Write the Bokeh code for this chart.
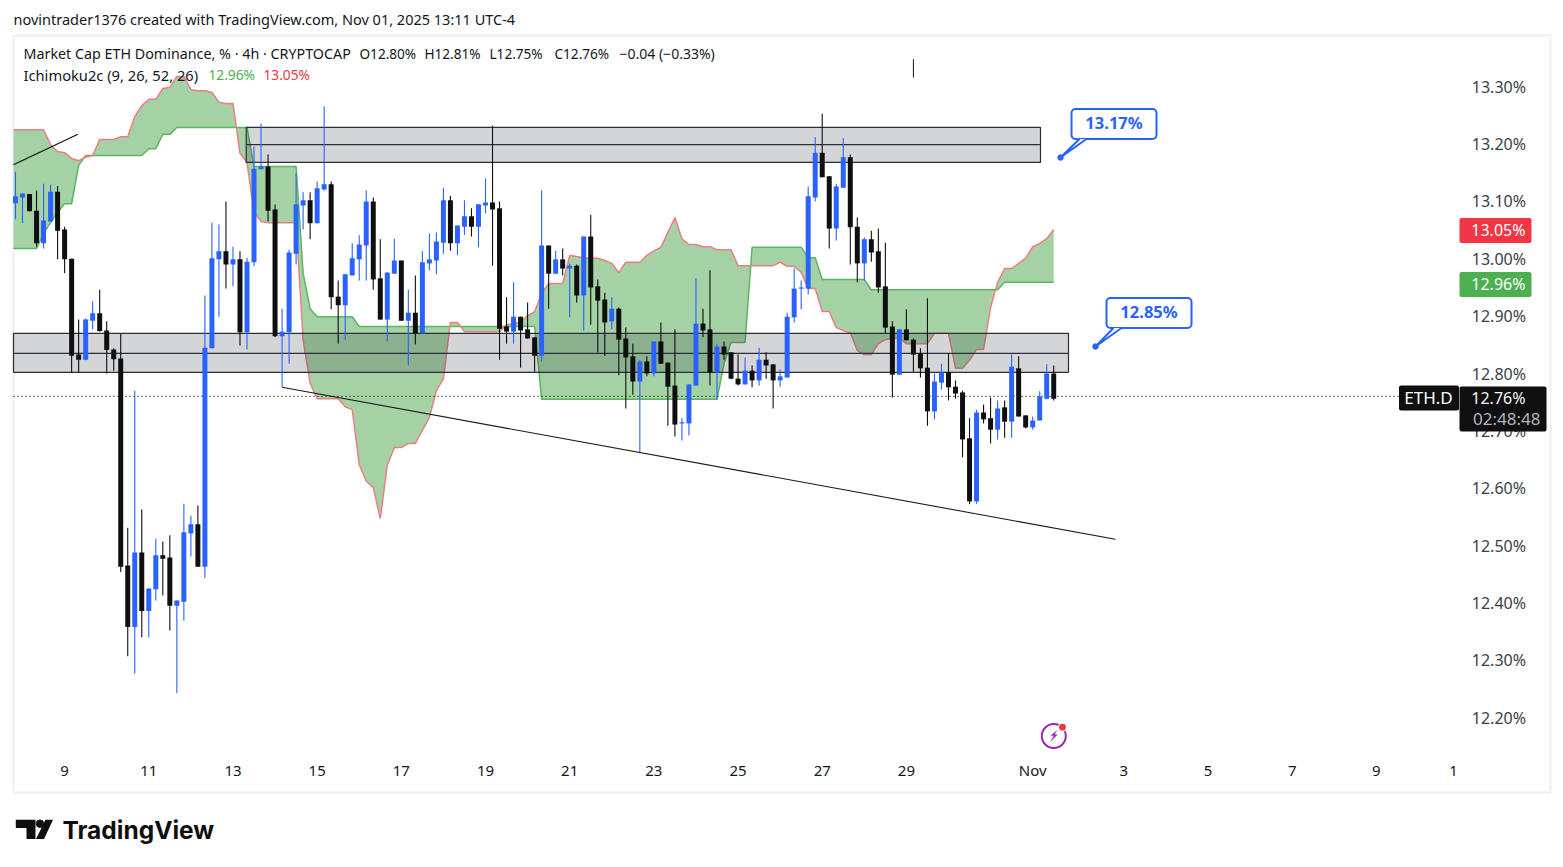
from bokeh.plotting import figure
from bokeh.models import Label, FixedTicker, PrintfTickFormatter
from bokeh.embed import file_html
from bokeh.resources import INLINE

# ---- data ----
opens = [13.097,13.107,13.113,13.084,13.027,13.065,13.117,13.051,13.000,12.833,12.824,12.892,12.905,12.875,12.842,12.826,
12.465,12.358,12.488,12.386,12.424,12.483,12.479,12.395,12.402,12.521,12.537,12.463,12.844,12.999,13.013,12.990,
12.999,12.872,12.994,13.156,13.161,13.086,12.865,12.872,13.009,13.093,13.102,13.062,13.121,13.130,12.934,12.919,
12.971,12.999,13.023,13.100,12.966,12.894,12.974,12.997,12.892,12.906,12.870,12.992,12.997,13.028,13.102,13.027,
13.056,13.074,13.056,13.093,13.098,13.088,12.882,12.873,12.899,12.877,12.863,12.831,13.023,12.974,12.999,12.983,
12.988,12.936,13.039,12.952,12.929,12.891,12.913,12.861,12.830,12.786,12.821,12.800,12.856,12.819,12.779,12.713,
12.713,12.779,12.887,12.877,12.802,12.847,12.837,12.791,12.781,12.805,12.788,12.824,12.816,12.788,12.793,12.898,
12.948,12.948,13.107,13.185,13.144,13.053,13.124,13.177,13.056,12.992,13.034,13.013,12.952,12.882,12.798,12.877,
12.859,12.835,12.810,12.734,12.784,12.802,12.777,12.767,12.687,12.577,12.732,12.722,12.702,12.741,12.716,12.809,
12.727,12.706,12.718,12.756,12.800]
highs = [13.152,13.114,13.113,13.119,13.131,13.129,13.127,13.056,13.000,12.894,12.896,12.926,12.946,12.891,12.844,12.869,
12.531,12.770,12.563,12.425,12.512,12.507,12.518,12.404,12.573,12.552,12.570,12.936,13.063,13.060,13.100,13.021,
13.013,13.002,13.196,13.236,13.182,13.095,12.913,13.016,13.149,13.116,13.116,13.135,13.266,13.135,12.962,12.973,
13.027,13.041,13.119,13.107,13.034,12.976,13.035,12.997,12.946,12.971,13.013,13.044,13.046,13.124,13.110,13.058,
13.102,13.088,13.095,13.140,13.232,13.100,12.933,12.959,12.899,12.924,12.863,13.119,13.023,13.014,13.018,12.992,
12.990,13.039,13.077,12.964,12.941,12.933,12.915,12.880,12.852,12.823,12.830,12.856,12.889,12.819,12.877,12.722,
12.781,12.966,12.913,12.980,12.852,12.856,12.837,12.833,12.828,12.814,12.845,12.837,12.816,12.807,12.906,12.983,
12.962,13.126,13.212,13.253,13.144,13.131,13.210,13.182,13.072,13.037,13.049,13.053,13.028,12.891,12.877,12.912,
12.861,12.844,12.931,12.800,12.817,12.835,12.788,12.770,12.722,12.737,12.746,12.758,12.753,12.753,12.833,12.830,
12.727,12.725,12.769,12.816,12.814]
lows = [13.069,13.062,13.083,13.021,13.018,13.065,12.999,12.975,12.802,12.802,12.823,12.877,12.873,12.800,12.805,12.454,
12.307,12.277,12.340,12.340,12.404,12.413,12.352,12.243,12.369,12.481,12.463,12.443,12.844,12.899,12.948,12.952,
12.849,12.842,12.987,13.156,13.065,12.863,12.776,12.817,12.990,13.051,13.034,13.062,13.119,12.912,12.852,12.859,
12.971,12.962,12.962,12.946,12.894,12.856,12.974,12.892,12.814,12.851,12.870,12.980,12.973,13.009,13.014,13.006,
13.042,13.039,13.020,13.079,12.988,12.824,12.852,12.852,12.810,12.861,12.803,12.821,12.913,12.974,12.971,12.898,
12.924,12.875,12.885,12.837,12.831,12.877,12.797,12.739,12.763,12.662,12.795,12.795,12.817,12.709,12.690,12.683,
12.692,12.779,12.863,12.779,12.755,12.824,12.790,12.779,12.781,12.776,12.779,12.791,12.739,12.777,12.793,12.889,
12.912,12.938,13.100,13.142,13.018,13.032,13.124,12.990,12.959,12.962,12.995,12.941,12.870,12.758,12.798,12.858,
12.803,12.793,12.709,12.720,12.772,12.753,12.756,12.654,12.572,12.573,12.713,12.678,12.685,12.688,12.688,12.725,
12.704,12.702,12.718,12.755,12.753]
closes = [13.109,13.114,13.083,13.027,13.067,13.117,13.049,12.999,12.831,12.824,12.894,12.905,12.874,12.841,12.825,12.463,
12.358,12.488,12.386,12.425,12.483,12.477,12.395,12.404,12.523,12.537,12.463,12.845,13.001,13.013,12.990,12.999,
12.872,12.995,13.157,13.161,13.084,12.865,12.873,13.011,13.095,13.102,13.062,13.123,13.130,12.933,12.919,12.973,
13.001,13.025,13.100,12.964,12.894,12.976,12.997,12.892,12.906,12.870,12.994,12.999,13.030,13.102,13.027,13.058,
13.074,13.056,13.095,13.098,13.086,12.878,12.873,12.899,12.875,12.861,12.831,13.023,12.974,12.999,12.983,12.988,
12.936,13.039,12.950,12.927,12.889,12.913,12.859,12.828,12.786,12.821,12.800,12.856,12.817,12.777,12.711,12.715,
12.781,12.887,12.875,12.802,12.847,12.833,12.791,12.781,12.805,12.788,12.824,12.814,12.788,12.795,12.899,12.948,
12.950,13.109,13.185,13.142,13.053,13.126,13.177,13.055,12.992,13.034,13.011,12.950,12.880,12.798,12.877,12.858,
12.833,12.809,12.734,12.786,12.802,12.776,12.765,12.685,12.577,12.732,12.720,12.702,12.739,12.716,12.812,12.725,
12.706,12.718,12.760,12.800,12.756]

span_a = [13.018,13.018,13.018,13.018,13.018,13.044,13.063,13.081,13.096,13.096,13.163,13.180,13.180,13.180,13.180,13.180,13.180,
13.180,13.180,13.180,13.192,13.192,13.217,13.217,13.229,13.229,13.229,13.229,13.229,13.229,13.229,13.229,13.229,13.229,13.229,
13.161,13.161,13.161,13.161,13.161,13.161,13.161,12.975,12.913,12.899,12.899,12.899,12.899,12.899,12.899,
12.882,12.882,12.882,12.882,12.882,12.882,12.882,12.882,12.882,12.882,12.882,12.882,12.882,12.882,12.882,12.882,12.882,12.882,12.882,12.882,12.882,12.882,12.882,12.882,12.882,12.882,
12.755,12.755,12.755,12.755,12.755,12.755,12.755,12.755,12.755,12.755,12.755,12.755,12.755,12.755,12.755,12.755,12.755,12.755,12.755,12.755,12.755,12.755,12.755,12.755,12.755,12.755,
12.817,12.854,12.854,12.854,13.020,13.020,13.020,13.020,13.020,13.020,13.020,13.020,13.002,13.002,
12.964,12.964,12.964,12.964,12.964,12.964,12.964,
12.946,12.946,12.946,12.946,12.946,12.946,12.946,12.946,12.946,12.946,12.946,12.946,12.946,12.946,12.946,12.946,12.946,12.946,12.946,
12.959,12.959,12.959,12.959,12.959,12.959,12.959,12.959]
span_b = [13.225,13.225,13.225,13.225,13.225,13.225,13.199,13.187,13.185,13.175,13.171,13.177,13.180,13.208,13.208,13.208,
13.213,13.213,13.248,13.267,13.278,13.278,13.297,13.299,13.318,13.318,13.295,13.293,13.293,13.290,13.273,13.271,13.271,
13.184,13.168,13.081,13.065,13.063,13.063,13.063,13.063,13.063,12.858,12.783,12.756,12.756,12.756,12.756,12.742,12.737,
12.641,12.612,12.601,12.547,12.640,12.671,12.671,12.678,12.678,12.701,12.723,12.770,12.791,12.889,12.889,
12.873,12.873,12.873,12.873,12.873,12.873,12.885,12.887,12.889,12.901,12.908,12.939,12.957,12.957,12.957,
13.006,13.004,13.002,13.001,13.001,12.997,12.992,12.976,12.994,12.994,12.994,13.006,13.014,13.020,13.046,13.072,13.035,13.025,13.025,13.021,13.021,
13.016,13.016,13.016,12.988,12.988,12.988,12.988,12.988,12.988,12.994,12.987,12.987,12.976,12.948,12.948,12.908,12.908,
12.880,12.875,12.871,12.840,12.833,12.833,12.852,12.859,12.861,12.861,12.852,12.852,12.852,12.852,12.870,12.870,12.870,
12.809,12.809,12.823,12.842,12.842,12.915,12.959,12.983,12.983,12.992,13.001,13.021,13.027,13.035,13.051]

zone_upper = [13.229, 13.199, 13.168]
zone_lower = [12.870, 12.835, 12.802]
trend_a_bars = [-0.3, 8.9]
trend_a_vals = [13.164, 13.217]
trend_b_bars = [38.0, 156.8]
trend_b_vals = [12.776, 12.511]
stray_bar = [128.0]
stray_top = [13.348]
stray_bot = [13.316]
last_price = 12.76

y_ticks = [12.2,12.3,12.4,12.5,12.6,12.7,12.8,12.9,13.0,13.1,13.2,13.3]
x_tick_bars = [7,19,31,43,55,67,79,91,103,115,127,145,158,170,182,194,205]
x_tick_labels = ["9","11","13","15","17","19","21","23","25","27","29","Nov","3","5","7","9","1"]

# ---- pixel helpers for decoration placement (page pixels) ----
def X(px): return (px-15)/7.015
def Y(py): return 12.8+(373-py)*0.0017437

BLUE="#2962ff"; BLACK="#0f0f0f"; GREEN="#4caf50"; RED="#f23645"; INK="#131722"
FONT="Noto Sans"

p = figure(width=1555, height=848, output_backend="svg", toolbar_location=None,
           x_range=(X(0),X(1555)), y_range=(Y(848),Y(0)),
           min_border_left=0, min_border_right=0, min_border_top=0, min_border_bottom=0,
           background_fill_color="white", border_fill_color="white", outline_line_color=None)
p.grid.visible=False
xa=p.xaxis[0]; ya=p.yaxis[0]
xa.fixed_location=Y(759); ya.fixed_location=X(1525.5)
xa.ticker=FixedTicker(ticks=x_tick_bars)
xa.major_label_overrides={b:t for b,t in zip(x_tick_bars,x_tick_labels)}
ya.ticker=FixedTicker(ticks=y_ticks)
ya.formatter=PrintfTickFormatter(format="%.2f%%")
for a in (xa,ya):
    a.axis_line_color=None; a.major_tick_line_color=None; a.minor_tick_line_color=None
    a.major_tick_out=0; a.major_tick_in=0; a.minor_tick_out=0
    a.major_label_standoff=0; a.major_label_text_font=FONT
    a.major_label_text_color=INK
xa.major_label_text_font_size="15px"
ya.major_label_text_font_size="16px"
ya.major_label_text_color="#3a3e4a"

# outer box
p.quad(left=[X(13)],right=[X(1550)],top=[Y(35)],bottom=[Y(792)],fill_color=None,line_color="#eef0f5",line_width=2)

bars=list(range(len(opens)))
cloud_bars=list(range(-1,len(opens)))

# cloud
p.varea([X(13)]+cloud_bars[1:],[span_a[0]]+span_a[1:],[span_b[0]]+span_b[1:],fill_color="#a5d2a5",fill_alpha=1)
p.line([X(13)]+cloud_bars[1:],[span_a[0]]+span_a[1:],line_color="#5cb560",line_width=1.5)
p.line([X(13)]+cloud_bars[1:],[span_b[0]]+span_b[1:],line_color="#ea8085",line_width=1.5)

# zones
zl=[X(245.7),X(13)]; zr=[X(1040),X(1068)]
p.quad(left=zl,right=zr,top=[zone_upper[0],zone_lower[0]],bottom=[zone_upper[2],zone_lower[2]],
       fill_color="#2a2e39",fill_alpha=0.2,line_color="#2a2e39",line_width=1.2)
p.segment(x0=zl,x1=zr,y0=[zone_upper[1],zone_lower[1]],y1=[zone_upper[1],zone_lower[1]],line_color="#2a2e39",line_width=1.2)

# price line
p.line([X(13),X(1398)],[last_price,last_price],line_color=BLACK,line_dash=[1,3],line_width=1.2)

# candles
colors=[BLUE if c>=o else BLACK for o,c in zip(opens,closes)]
p.segment(x0=bars,x1=bars,y0=lows,y1=highs,line_color=colors,line_width=1.1)
p.vbar(x=bars,width=0.71,top=[max(o,c) for o,c in zip(opens,closes)],bottom=[min(o,c) for o,c in zip(opens,closes)],
       fill_color=colors,line_color=None)

# trend lines
p.line(trend_a_bars,trend_a_vals,line_color=BLACK,line_width=1.1)
p.line(trend_b_bars,trend_b_vals,line_color="#1a1a1a",line_width=1.1)
p.segment(x0=stray_bar,x1=stray_bar,y0=stray_bot,y1=stray_top,line_color=BLACK,line_width=1)

def T(px,py,text,size="14px",color=INK,style="normal",align="left",font=FONT):
    p.add_layout(Label(x=X(px),y=Y(py-1),text=text,text_font=font,text_font_size=size,text_color=color,
                       text_font_style=style,text_align=align,text_baseline="middle",level="overlay"))

# callouts
for (l,r,t,b,t1,t2,dx,dy,txt) in ((1071,1156,108.5,138.5,1079,1086,1060,157,"13.17%"),
                                  (1106,1191,297.5,327.5,1113,1121,1095,346,"12.85%")):
    p.quad(left=[X(l)],right=[X(r)],top=[Y(t)],bottom=[Y(b)],fill_color="white",line_color=BLUE,line_width=2,border_radius=4)
    p.patch([X(t1),X(t2),X(dx)],[Y(b),Y(b),Y(dy)],fill_color="white",line_color=None)
    p.line([X(t1),X(dx),X(t2)],[Y(b),Y(dy),Y(b)],line_color=BLUE,line_width=2)
    p.scatter([X(dx)],[Y(dy)],size=5.5,color=BLUE)
    T((l+r)/2,(t+b)/2-0.5,txt,"16.5px",BLUE,"bold","center")

# price tags
tags=[(1459,1531,217.5,242.5,RED),(1459,1531,271.5,296.5,GREEN),(1398.5,1458.5,385,410,BLACK),(1459,1546,386,431,BLACK)]
p.quad(left=[X(t[0]) for t in tags],right=[X(t[1]) for t in tags],top=[Y(t[2]) for t in tags],bottom=[Y(t[3]) for t in tags],
       fill_color=[t[4] for t in tags],line_color=None,border_radius=2,level="overlay")
T(1525,230,"13.05%","16px","white","normal","right")
T(1525,284.5,"12.96%","16px","white","normal","right")
T(1428,398,"ETH.D","17px","white","normal","center")
T(1525,398.5,"12.76%","16px","#f5f5f5","normal","right")
T(1540,419,"02:48:48","17px","#b2b5be","normal","right")

# header + legend
T(13,19.5,"novintrader1376 created with TradingView.com, Nov 01, 2025 13:11 UTC-4","14.5px")
T(23,54,"Market Cap ETH Dominance, % · 4h · CRYPTOCAP","14.3px")
T(359,54,"O12.80%","13.6px"); T(424,54,"H12.81%","13.6px"); T(489,54,"L12.75%","13.6px"); T(554,54,"C12.76%","13.6px")
T(619,54,"−0.04 (−0.33%)","14px")
T(23,75,"Ichimoku2c (9, 26, 52, 26)","14.7px")
T(208,75,"12.96%","13.7px",GREEN); T(263,75,"13.05%","13.7px",RED)

# purple icon
p.scatter([X(1053.3)],[Y(735.5)],size=24,fill_color=None,line_color="#9c27b0",line_width=2)
p.patch([X(1057.3),X(1050),X(1053.3),X(1049.3),X(1057.3),X(1054)],[Y(729.3),Y(735),Y(735.3),Y(741.7),Y(734),Y(733.7)],fill_color="#9c27b0",line_color=None)
p.scatter([X(1062)],[Y(726.7)],size=8,fill_color="#f23645",line_color="white",line_width=1.2)

# logo
p.patch([X(15.3),X(35),X(35),X(26),X(26),X(15.3)],[Y(819.3),Y(819.3),Y(838.5),Y(838.5),Y(827.5),Y(827.5)],fill_color=BLACK,line_color=None)
p.scatter([X(39.5)],[Y(823.2)],size=7.5,color=BLACK)
p.patch([X(45),X(52.5),X(43.5),X(35.5)],[Y(819.3),Y(819.3),Y(838.5),Y(838.5)],fill_color=BLACK,line_color=None)
T(62,830.5,"TradingView","24.5px",BLACK,"bold","left","Inter")

open("out.html","w").write(file_html(p,INLINE))
